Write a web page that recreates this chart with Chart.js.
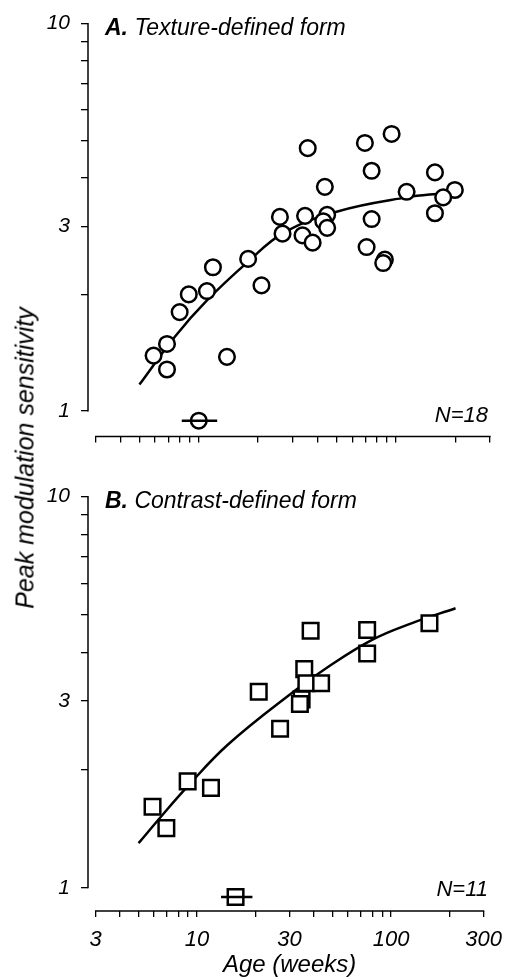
<!DOCTYPE html>
<html><head><meta charset="utf-8">
<script src="https://cdn.jsdelivr.net/npm/chart.js@4.4.1/dist/chart.umd.min.js"></script>
<style>
html,body{margin:0;padding:0;background:#fff;width:512px;height:979px;overflow:hidden}
#wrapA{position:absolute;left:0;top:0;width:512px;height:460px}
#wrapB{position:absolute;left:0;top:460px;width:512px;height:519px}
#ytitle{position:absolute;left:25px;top:458px;transform:translate(-50%,-50%) rotate(-90deg);font:italic 25px "Liberation Sans",Arial,sans-serif;white-space:nowrap;color:#000;line-height:1}
</style></head><body>
<div id="wrapA"><canvas id="cA" width="512" height="460"></canvas></div>
<div id="wrapB"><canvas id="cB" width="512" height="519"></canvas></div>
<div id="ytitle">Peak modulation sensitivity</div>
<script>
// ---- tick values / labels ----
const xTickValues = [3,4,5,6,7,8,9,10,20,30,40,50,60,70,80,90,100,200,300];
const xTickLabels = ['3','10','30','100','300'];
const yTickValues = [1,2,3,4,5,6,7,8,9,10];
const yTickLabels = ['1','3','10'];
const xTitle = 'Age (weeks)';

// ---- Panel A: texture-defined form ----
const ageA  = [11.8,17.8,20.8,8.9,11.0,8.0,6.9,5.9,6.9,13.9,26.6,35.7,69.6,95.1,75.3,157.7,43.6,113.3,199,173.7,157.7,25.8,34.6,44.8,42.8,75.3,33.6,44.8,37.8,71.0,87.9,86.2];
const sensA = [2.35,2.47,2.11,2.00,2.04,1.80,1.49,1.39,1.28,1.38,2.87,4.77,4.92,5.19,4.17,4.13,3.79,3.68,3.72,3.56,3.24,3.17,3.19,3.21,3.09,3.13,2.84,2.97,2.72,2.65,2.46,2.41];
const fitAgeA  = [5.0,7.6,11.0,17.8,26.8,50,113,174,219];
const fitSensA = [1.17,1.56,1.93,2.43,2.88,3.27,3.56,3.65,3.70];
const meanAgeA = 10.0, meanSensA = 0.944, meanLoA = 8.2, meanHiA = 12.4;

// ---- Panel B: contrast-defined form ----
const ageB  = [5.9,6.95,8.95,11.8,20.8,26.8,34.6,33.9,35.7,36.6,43.6,38.5,75.3,75.3,157.7];
const sensB = [1.61,1.42,1.87,1.80,3.17,2.55,3.03,2.95,3.62,3.33,3.33,4.54,4.56,3.97,4.74];
const fitAgeB  = [5.0,6.6,8.8,14.4,31.4,46.3,79.8,127.3,215];
const fitSensB = [1.30,1.53,1.80,2.32,3.17,3.64,4.30,4.74,5.18];
const meanAgeB = 15.8, meanSensB = 0.947, meanLoB = 13.3, meanHiB = 19.3;

const FAM = '"Liberation Sans", Arial, Helvetica, sans-serif';
const pts = (xs, ys) => xs.map((x, i) => ({x, y: ys[i]}));

const decorPlugin = {
  id: 'panelDecor',
  afterDraw(chart, args, o) {
    const ctx = chart.ctx, xs = chart.scales.x, ys = chart.scales.y, ca = chart.chartArea;
    ctx.save();
    ctx.strokeStyle = '#000'; ctx.lineWidth = 1.5; ctx.lineCap = 'butt';
    ctx.beginPath();
    ctx.moveTo(ca.left, ys.getPixelForValue(10) - 0.6);
    ctx.lineTo(ca.left, ys.getPixelForValue(1) + 0.6);
    ctx.stroke();
    ctx.beginPath();
    ctx.moveTo(xs.getPixelForValue(3) - 0.6, ca.bottom);
    ctx.lineTo(xs.getPixelForValue(300) + 0.6, ca.bottom);
    ctx.stroke();
    ctx.fillStyle = '#000';
    ctx.textBaseline = 'alphabetic';
    const ty = ys.getPixelForValue(10) + o.titleDy;
    ctx.font = 'italic bold 23px ' + FAM;
    ctx.textAlign = 'left';
    ctx.fillText(o.letter, 105, ty);
    const w = ctx.measureText(o.letter + ' ').width;
    ctx.font = 'italic 23px ' + FAM;
    ctx.fillText(o.title, 105 + w, ty);
    ctx.font = 'italic 22px ' + FAM;
    ctx.textAlign = 'right';
    ctx.fillText(o.n, 488, ys.getPixelForValue(1) + o.nDy);
    if (o.showX) {
      ctx.font = 'italic 24px ' + FAM;
      ctx.textAlign = 'center';
      ctx.fillText(xTitle, xs.getPixelForValue(30), ca.bottom + 61);
    }
    ctx.restore();
  }
};

function makeChart(id, c) {
  return new Chart(document.getElementById(id), {
    type: 'scatter',
    data: { datasets: [
      { data: [{x: c.lo, y: c.meanY}, {x: c.hi, y: c.meanY}], showLine: true, borderColor: '#000', borderWidth: 2.5, pointRadius: 0, order: 0 },
      { data: [{x: c.meanX, y: c.meanY}], pointStyle: c.style, pointRadius: c.r, borderColor: '#000', backgroundColor: 'rgba(255,255,255,0)', pointBorderWidth: 2.5, order: 1 },
      { data: pts(c.ax, c.sy), pointStyle: c.style, pointRadius: c.r, borderColor: '#000', backgroundColor: '#fff', pointBorderWidth: 2.5, order: 2 },
      { data: pts(c.fx, c.fy), showLine: true, borderColor: '#000', borderWidth: 2.5, pointRadius: 0, tension: 0.4, order: 3 }
    ]},
    options: {
      responsive: false, animation: false, events: [],
      layout: { padding: { top: c.padTop, right: 22, left: 0, bottom: 0 } },
      plugins: { legend: { display: false }, tooltip: { enabled: false },
        panelDecor: { letter: c.letter, title: c.title, n: c.n, titleDy: c.titleDy, nDy: c.nDy, showX: c.showX } },
      scales: {
        x: {
          type: 'logarithmic', min: 2.743, max: 300,
          border: { display: false },
          grid: { drawOnChartArea: false, drawTicks: true, tickLength: 6, color: '#000', lineWidth: 1.3 },
          afterBuildTicks: s => { s.ticks = xTickValues.map(v => ({ value: v })); },
          afterFit: s => { s.height = c.xHeight; },
          ticks: { autoSkip: false, maxRotation: 0, minRotation: 0, padding: 10, color: '#000',
            font: { family: FAM, size: 22, style: 'italic' },
            callback: v => (c.showX && xTickLabels.includes(String(v))) ? String(v) : '' }
        },
        y: {
          type: 'logarithmic', min: c.yMin, max: 10,
          border: { display: false },
          grid: { drawOnChartArea: false, drawTicks: true, tickLength: 7, color: '#000', lineWidth: 1.3 },
          afterBuildTicks: s => { s.ticks = yTickValues.map(v => ({ value: v })); },
          afterFit: s => { s.width = 88; },
          ticks: { autoSkip: false, padding: 11, color: '#000',
            font: { family: FAM, size: 21, style: 'italic' },
            callback: v => yTickLabels.includes(String(v)) ? String(v) : '' }
        }
      }
    },
    plugins: [decorPlugin]
  });
}

makeChart('cA', { ax: ageA, sy: sensA, fx: fitAgeA, fy: fitSensA, meanX: meanAgeA, meanY: meanSensA, lo: meanLoA, hi: meanHiA,
  style: 'circle', r: 7.8, padTop: 22, yMin: 0.86, xHeight: 21, showX: false,
  letter: 'A.', title: 'Texture-defined form', n: 'N=18', titleDy: 11, nDy: 11 });
makeChart('cB', { ax: ageB, sy: sensB, fx: fitAgeB, fy: fitSensB, meanX: meanAgeB, meanY: meanSensB, lo: meanLoB, hi: meanHiB,
  style: 'rect', r: 11, padTop: 36.5, yMin: 0.872, xHeight: 68, showX: true,
  letter: 'B.', title: 'Contrast-defined form', n: 'N=11', titleDy: 11, nDy: 8 });
</script>
</body></html>
